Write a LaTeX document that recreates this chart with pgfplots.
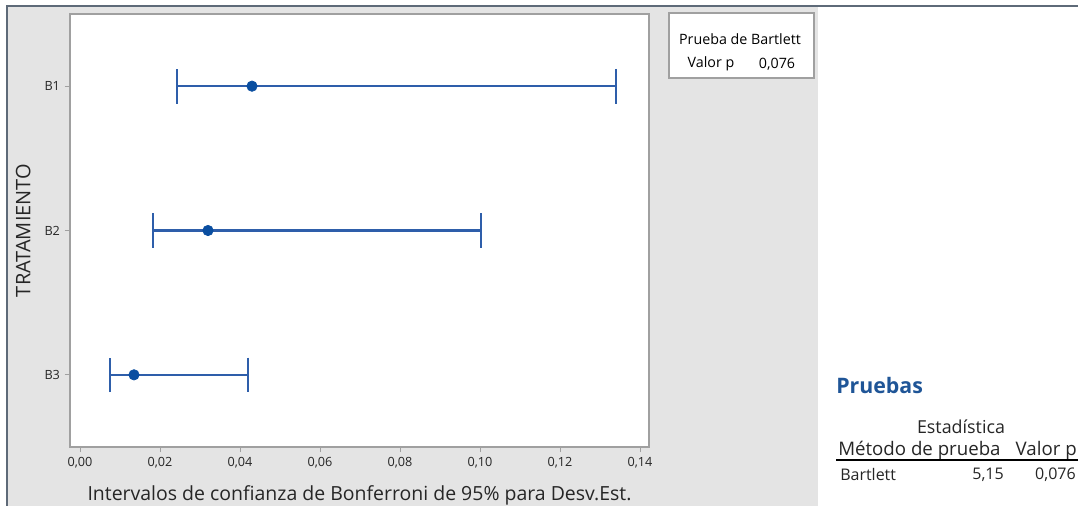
\documentclass[border=0pt]{standalone}
\usepackage{pgfplots}
\pgfplotsset{compat=1.18}
\usepackage{pgfplotstable}
\usepackage{fontspec}
\setmainfont{Open Sans}
\definecolor{panelgray}{HTML}{E4E4E4}
\definecolor{framegray}{HTML}{5E6A78}
\definecolor{axisgray}{HTML}{A0A0A0}
\definecolor{barblue}{HTML}{2E5EAA}
\definecolor{dotblue}{HTML}{0A4EA0}
\definecolor{headblue}{HTML}{1F5597}

\pgfplotstableread{
y  est    lo      hi
1  0.0430 0.0243  0.1340
2  0.0320 0.0183  0.1003
3  0.0135 0.0075  0.0420
}\cidata
\pgfplotstablecreatecol[expr={\thisrow{hi}-\thisrow{est}}]{ep}{\cidata}
\pgfplotstablecreatecol[expr={\thisrow{est}-\thisrow{lo}}]{em}{\cidata}

\begin{document}
\begin{tikzpicture}[x=0.75pt,y=0.75pt]
\useasboundingbox (0,0) rectangle (1078,506);
\fill[white] (0,0) rectangle (1078,506);
\fill[panelgray] (7,0) rectangle (818,500);
\draw[framegray,line width=0.9pt] (7,0) -- (7,500) -- (1078,500);

\begin{axis}[
  at={(52.5pt,44.25pt)}, anchor=south west,
  scale only axis, width=434.25pt, height=324.75pt,
  axis background/.style={fill=white},
  xmin=-0.0025, xmax=0.14225,
  ymin=0.5, ymax=3.5, y dir=reverse,
  xtick={0,0.02,...,0.14},
  ytick={1,2,3}, yticklabels={B1,B2,B3},
  xtick pos=bottom, ytick pos=left,
  tick align=outside, major tick length=4pt,
  axis line style={axisgray, line width=0.8pt},
  tick style={axisgray, line width=0.6pt},
  /pgf/number format/.cd, fixed, fixed zerofill, precision=2, use comma, assume math mode=true,
  /pgfplots/.cd,
  scaled x ticks=false,
  ticklabel style={font=\fontsize{9.5}{10}\selectfont, text=black!85},
  xlabel={Intervalos de confianza de Bonferroni de 95\% para Desv.Est.},
  ylabel={TRATAMIENTO},
  xlabel style={at={(axis description cs:0.5,-0.111)}, anchor=center, font=\fontsize{14.6}{16}\selectfont, text=black!85},
  ylabel style={at={(axis description cs:-0.081,0.5)}, anchor=center, rotate=0, font=\fontsize{15}{16}\selectfont, text=black!85},
  clip=false,
]
\addplot[barblue, line width=1.6pt, mark=*, mark size=3.9pt,
  mark options={fill=dotblue, draw=dotblue, line width=0.5pt},
  only marks,
  error bars/.cd, x dir=both, x explicit,
  error bar style={barblue, line width=1.6pt},
  error mark options={barblue, line width=1.4pt, mark size=13pt, rotate=90}]
  table[x=est, y=y, x error plus=ep, x error minus=em] {\cidata};
\end{axis}

% legend box
\draw[axisgray, fill=white, line width=0.8pt] (669,428) rectangle (814,493);
\node[font=\fontsize{10.7}{12}\selectfont] at (740,467) {Prueba de Bartlett};
\node[font=\fontsize{10.7}{12}\selectfont] at (711,442) {Valor p};
\node[font=\fontsize{10.7}{12}\selectfont] at (777,442) {0,076};

% right table
\node[anchor=west, font=\fontsize{16}{18}\selectfont\bfseries, text=headblue, inner sep=0pt] at (836,120) {Pruebas};
\node[font=\fontsize{13.4}{15}\selectfont, text=black!85] at (961,79) {Estadística};
\node[anchor=west, font=\fontsize{14}{16}\selectfont, text=black!85, inner sep=0pt] at (838,55) {Método de prueba};
\node[anchor=east, font=\fontsize{14}{16}\selectfont, text=black!85, inner sep=0pt] at (1077,55) {Valor p};
\draw[black, line width=0.8pt] (836,46) -- (1078,46);
\node[anchor=west, font=\fontsize{12}{14}\selectfont, text=black!85, inner sep=0pt] at (840,31) {Bartlett};
\node[anchor=east, font=\fontsize{12}{14}\selectfont, text=black!85, inner sep=0pt] at (1004,31) {5,15};
\node[anchor=east, font=\fontsize{12}{14}\selectfont, text=black!85, inner sep=0pt] at (1076,31) {0,076};
\end{tikzpicture}
\end{document}
